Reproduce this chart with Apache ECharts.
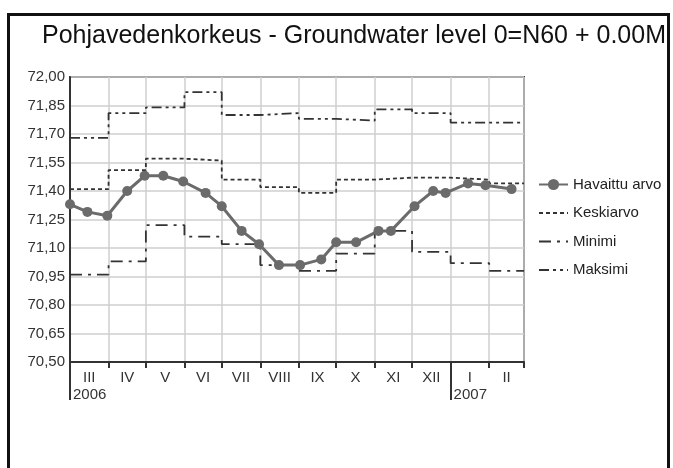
<!DOCTYPE html>
<html>
<head>
<meta charset="utf-8">
<script src="https://cdn.jsdelivr.net/npm/echarts@6/dist/echarts.min.js"></script>
<style>
  html, body { margin: 0; padding: 0; background: #fff; }
  #chart { width: 673px; height: 468px; }
</style>
</head>
<body>
<div id="chart"></div>
<script>
// month boundaries (start of each month, plus the end of the last one)
const monthStarts = ['2006-03-01', '2006-04-01', '2006-05-01', '2006-06-01', '2006-07-01', '2006-08-01',
  '2006-09-01', '2006-10-01', '2006-11-01', '2006-12-01', '2007-01-01', '2007-02-01', '2007-03-01'];
const monthLabels = ['III', 'IV', 'V', 'VI', 'VII', 'VIII', 'IX', 'X', 'XI', 'XII', 'I', 'II'];
const yearStarts = ['2006-03-01', '2007-01-01'];
const yearLabels = ['2006', '2007'];

// observed level (Havaittu arvo)
const obsDates = ['2006-03-01', '2006-03-15', '2006-03-31', '2006-04-16', '2006-04-30', '2006-05-15',
  '2006-05-31', '2006-06-18', '2006-07-01', '2006-07-17', '2006-07-31', '2006-08-16', '2006-09-02',
  '2006-09-19', '2006-10-01', '2006-10-17', '2006-11-04', '2006-11-14', '2006-12-03', '2006-12-18',
  '2006-12-28', '2007-01-15', '2007-01-29', '2007-02-19'];
const obsValues = [71.33, 71.29, 71.27, 71.40, 71.48, 71.48, 71.45, 71.39, 71.32, 71.19, 71.12, 71.01,
  71.01, 71.04, 71.13, 71.13, 71.19, 71.19, 71.32, 71.40, 71.39, 71.44, 71.43, 71.41];

// monthly statistics
const meanValues = [71.41, 71.51, 71.57, 71.56, 71.46, 71.42, 71.39, 71.46, 71.47, 71.47, 71.46, 71.44];
const minValues = [70.96, 71.03, 71.22, 71.16, 71.12, 71.01, 70.98, 71.07, 71.19, 71.08, 71.02, 70.98];
const maxValues = [71.68, 71.81, 71.84, 71.92, 71.80, 71.81, 71.78, 71.77, 71.83, 71.81, 71.76, 71.76];

const yTicks = { min: 70.5, max: 72.0, step: 0.15 };

// dates -> day numbers (UTC) so the x axis is a plain value axis
function ts(s) {
  const p = s.split('-').map(Number);
  return Date.UTC(p[0], p[1] - 1, p[2]) / 86400000;
}

const monthX = monthStarts.map(ts);
const yearX = yearStarts.map(ts);

// step series: one point per month start, last value repeated at the end boundary
function stepData(values) {
  const d = values.map((v, i) => [monthX[i], v]);
  d.push([monthX[monthX.length - 1], values[values.length - 1]]);
  return d;
}

// label positions in the middle of each month
const labelAt = {};
const midX = monthLabels.map((lab, i) => {
  const m = (monthX[i] + monthX[i + 1]) / 2;
  labelAt[m] = lab;
  return m;
});
const yearAt = {};
yearX.forEach((x, i) => { yearAt[x] = yearLabels[i]; });

const font = 'Liberation Sans, Arial, sans-serif';
const stepColor = '#333';
const obsColor = '#6b6b6b';

function stepSeries(name, values, dash) {
  return {
    name: name,
    type: 'line',
    step: 'end',
    symbol: 'none',
    data: stepData(values),
    lineStyle: { color: stepColor, width: 1.8, type: dash },
    itemStyle: { color: stepColor, opacity: 0 }
  };
}

const chart = echarts.init(document.getElementById('chart'), null, { renderer: 'canvas' });

chart.setOption({
  animation: false,
  backgroundColor: '#fff',
  textStyle: { fontFamily: font },
  graphic: [{
    type: 'rect',
    shape: { x: 8.5, y: 14.5, width: 660, height: 480 },
    style: { fill: null, stroke: '#111', lineWidth: 3 },
    silent: true
  }],
  title: {
    text: 'Pohjavedenkorkeus - Groundwater level 0=N60 + 0.00M',
    left: 37,
    top: 19,
    textStyle: { fontFamily: font, fontSize: 25, fontWeight: 'normal', color: '#111' }
  },
  legend: {
    orient: 'vertical',
    left: 533,
    top: 172,
    itemWidth: 29,
    itemHeight: 14,
    itemGap: 13.5,
    textStyle: { fontFamily: font, fontSize: 15, color: '#222' },
    data: [
      'Havaittu arvo',
      { name: 'Keskiarvo', itemStyle: { opacity: 0 } },
      { name: 'Minimi', itemStyle: { opacity: 0 } },
      { name: 'Maksimi', itemStyle: { opacity: 0 } }
    ]
  },
  grid: {
    left: 70, right: 149, top: 77, bottom: 106,
    show: true, borderColor: '#444', borderWidth: 2
  },
  xAxis: [{
    type: 'value',
    position: 'bottom',
    min: monthX[0],
    max: monthX[monthX.length - 1],
    axisLine: { show: true, lineStyle: { color: '#333', width: 2 } },
    axisTick: { show: true, customValues: monthX, length: 6, lineStyle: { color: '#333', width: 2 } },
    splitLine: { show: true, lineStyle: { color: '#cfcfcf', width: 1.5 } },
    axisLabel: {
      customValues: midX,
      formatter: v => labelAt[v] || '',
      fontSize: 15, color: '#333', margin: 8, fontFamily: font
    }
  }, {
    type: 'value',
    position: 'bottom',
    min: monthX[0],
    max: monthX[monthX.length - 1],
    axisLine: { show: false },
    axisTick: { show: true, customValues: yearX, length: 38, lineStyle: { color: '#333', width: 2 } },
    splitLine: { show: false },
    axisLabel: {
      customValues: yearX,
      formatter: v => yearAt[v] || '',
      align: 'left', padding: [0, 0, 0, 3],
      fontSize: 15, color: '#333', margin: 25, fontFamily: font
    }
  }],
  yAxis: {
    type: 'value',
    min: yTicks.min,
    max: yTicks.max,
    interval: yTicks.step,
    axisLine: { show: true, lineStyle: { color: '#333', width: 2 } },
    axisTick: { show: false },
    splitLine: { show: true, lineStyle: { color: '#cfcfcf', width: 1.5 } },
    axisLabel: {
      formatter: v => v.toFixed(2).replace('.', ','),
      fontSize: 15, color: '#333', margin: 5, fontFamily: font
    }
  },
  series: [
    stepSeries('Keskiarvo', meanValues, [4, 3]),
    stepSeries('Minimi', minValues, [12, 6, 3, 6]),
    stepSeries('Maksimi', maxValues, [10, 4, 3, 4, 3, 4]),
    {
      name: 'Havaittu arvo',
      type: 'line',
      z: 5,
      symbol: 'circle',
      symbolSize: 10,
      showAllSymbol: true,
      data: obsDates.map((d, i) => [ts(d), obsValues[i]]),
      lineStyle: { color: obsColor, width: 3 },
      itemStyle: { color: obsColor }
    }
  ]
});
</script>
</body>
</html>
